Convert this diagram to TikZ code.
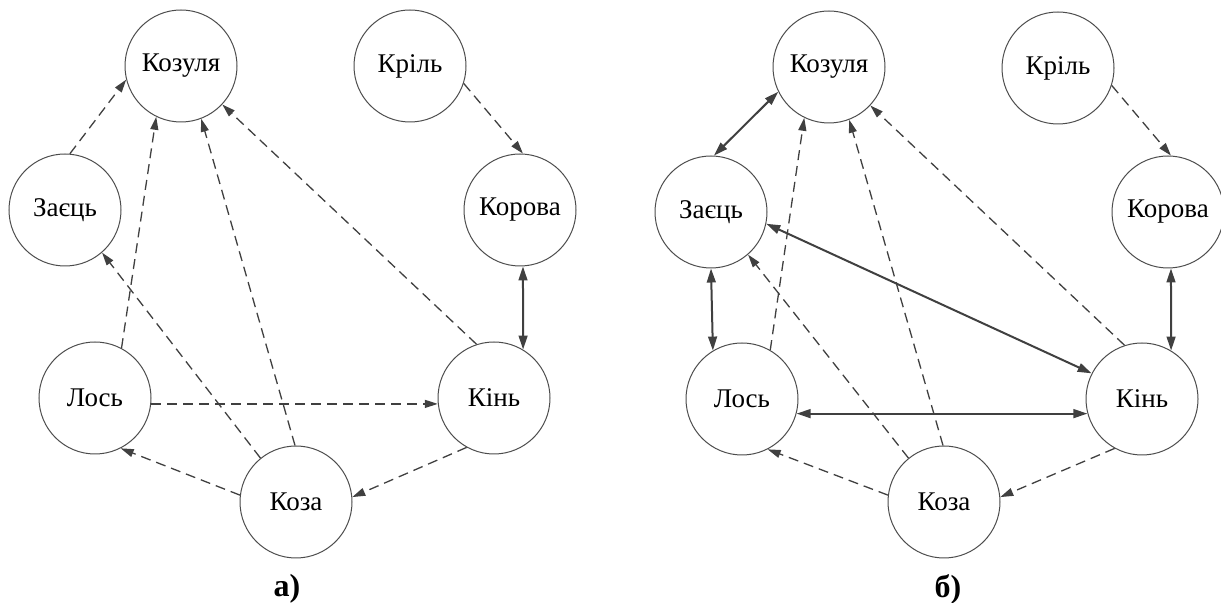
\documentclass[tikz,border=0pt]{standalone}
\usepackage{fontspec}
\setmainfont{Liberation Serif}
\usetikzlibrary{arrows.meta}

\tikzset{
  animal/.style={circle, draw=black!70, line width=0.5pt, minimum size=56pt, inner sep=0pt,
    font=\fontsize{13.5}{15}\selectfont},
  oneway/.style={draw=black!75, line width=0.65pt, dash pattern=on 5pt off 3pt,
    -{Triangle[length=6.5pt,width=4pt]}},
  twoway/.style={draw=black!75, line width=1pt,
    {Triangle[length=7pt,width=4.4pt]}-{Triangle[length=7pt,width=4.4pt]}},
  panelcap/.style={font=\fontsize{16}{18}\selectfont\bfseries},
}

\begin{document}
\begin{tikzpicture}[x=0.5pt,y=-0.5pt]
	\useasboundingbox (0,0) rectangle (1221,603);
	% a)
	\node[animal](kozulya1) at (181,66){Козуля};
	\node[animal](kril1) at (410,66){Кріль};
	\node[animal](zayets1) at (65,210){Заєць};
	\node[animal](korova1) at (520,210){Корова};
	\node[animal](los1) at (95,398){Лось};
	\node[animal](kin1) at (494,398){Кінь};
	\node[animal](koza1) at (296,502){Коза};
	\node[panelcap](capA) at (287,589){а)};
		\draw[oneway](zayets1.85) -- (kozulya1.194);
		\draw[oneway](los1.62) -- (kozulya1.244);
		\draw[oneway](koza1.91) -- (kozulya1.291);
		\draw[oneway](kin1.108) -- (kozulya1.317);
		\draw[oneway](koza1.129) -- (zayets1.311);
		\draw[oneway](los1.-6) -- (kin1.186);
		\draw[oneway](koza1.173) -- (los1.297);
		\draw[oneway](kin1.241) -- (koza1.5);
		\draw[twoway](korova1.273) -- (kin1.59);
		\draw[oneway](kril1.342) -- (korova1.87);
	% b)
	\node[animal](kozulya2) at (829,67){Козуля};
	\node[animal](kril2) at (1058,68){Кріль};
	\node[animal](zayets2) at (711,212){Заєць};
	\node[animal](korova2) at (1168,212){Корова};
	\node[animal](los2) at (742,399){Лось};
	\node[animal](kin2) at (1142,399){Кінь};
	\node[animal](koza2) at (944,502){Коза};
	\node[panelcap](capB) at (948,589){б)};
		\draw[twoway](zayets2.87) -- (kozulya2.206);
		\draw[oneway](los2.60) -- (kozulya2.244);
		\draw[oneway](koza2.91) -- (kozulya2.291);
		\draw[oneway](kin2.108) -- (kozulya2.317);
		\draw[oneway](koza2.129) -- (zayets2.311);
		\draw[twoway](zayets2.348) -- (kin2.153);
		\draw[twoway](zayets2.270) -- (los2.121);
		\draw[twoway](los2.345) -- (kin2.195);
		\draw[oneway](koza2.173) -- (los2.297);
		\draw[oneway](kin2.241) -- (koza2.5);
		\draw[twoway](korova2.273) -- (kin2.59);
		\draw[oneway](kril2.342) -- (korova2.87);
\end{tikzpicture}
\end{document}
